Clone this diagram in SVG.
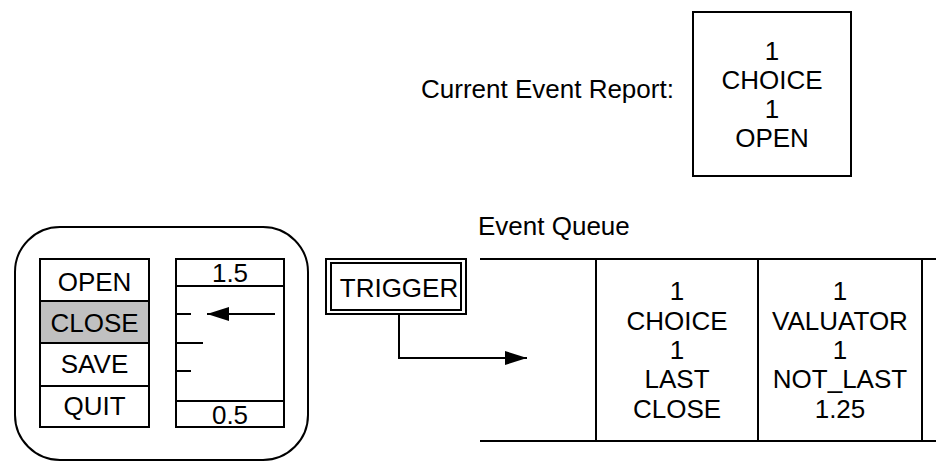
<svg xmlns="http://www.w3.org/2000/svg" width="936" height="462" viewBox="0 0 936 462">
  <style>
    text { font-family: "Liberation Sans", Arial, sans-serif; font-size: 26px; fill: #000; }
    .c { text-anchor: middle; }
    .box { fill: none; stroke: #000; stroke-width: 2; }
    .ln { fill: none; stroke: #000; stroke-width: 2; }
  </style>
  <defs>
    <marker id="arrow" viewBox="0 0 22 14" refX="22" refY="7" markerWidth="22" markerHeight="14" markerUnits="userSpaceOnUse" orient="auto">
      <path d="M0,0 L22,7 L0,14 Z" fill="#000"/>
    </marker>
  </defs>
  <rect width="936" height="462" fill="#fff"/>

  <!-- report of the current event -->
  <g id="report">
    <text x="421" y="98">Current Event Report:</text>
    <rect class="box" x="693" y="12" width="158" height="164"/>
    <text class="c" x="772" y="60">1</text>
    <text class="c" x="772" y="89">CHOICE</text>
    <text class="c" x="772" y="118">1</text>
    <text class="c" x="772" y="147">OPEN</text>
  </g>

  <!-- workstation with choice menu and valuator -->
  <g id="workstation">
    <rect class="box" x="15" y="227" width="293" height="233" rx="45" ry="45"/>
  </g>

  <g id="choice-menu">
    <rect x="40" y="301" width="109" height="42" fill="#c0c0c0"/>
    <rect class="box" x="40" y="259" width="109" height="168"/>
    <line class="ln" x1="40" y1="301" x2="149" y2="301"/>
    <line class="ln" x1="40" y1="343" x2="149" y2="343"/>
    <line class="ln" x1="40" y1="386" x2="149" y2="386"/>
    <text class="c" x="94.5" y="291">OPEN</text>
    <text class="c" x="94.5" y="332">CLOSE</text>
    <text class="c" x="94.5" y="373">SAVE</text>
    <text class="c" x="94.5" y="415">QUIT</text>
  </g>

  <g id="valuator">
    <rect class="box" x="176" y="259" width="108" height="168"/>
    <line class="ln" x1="176" y1="286" x2="284" y2="286"/>
    <line class="ln" x1="176" y1="401" x2="284" y2="401"/>
    <text class="c" x="230" y="282">1.5</text>
    <text class="c" x="230" y="424">0.5</text>
    <line class="ln" x1="176" y1="314" x2="191" y2="314"/>
    <line class="ln" x1="176" y1="343" x2="203" y2="343"/>
    <line class="ln" x1="176" y1="371" x2="191" y2="371"/>
    <line class="ln" x1="275" y1="314" x2="207" y2="314" marker-end="url(#arrow)"/>
  </g>

  <g id="trigger">
    <rect class="box" x="326" y="259" width="140" height="55"/>
    <rect class="box" x="331" y="263" width="130" height="47"/>
    <text class="c" x="399" y="297">TRIGGER</text>
  </g>

  <!-- event queue -->
  <g id="event-queue">
    <text x="478" y="235">Event Queue</text>
    <line class="ln" x1="480" y1="259" x2="936" y2="259"/>
    <line class="ln" x1="480" y1="441" x2="936" y2="441"/>
    <line class="ln" x1="596" y1="259" x2="596" y2="441"/>
    <line class="ln" x1="758" y1="259" x2="758" y2="441"/>
    <line class="ln" x1="922" y1="259" x2="922" y2="441"/>
  </g>

  <g id="queue-entry-1">
    <text class="c" x="677" y="300">1</text>
    <text class="c" x="677" y="330">CHOICE</text>
    <text class="c" x="677" y="359">1</text>
    <text class="c" x="677" y="388">LAST</text>
    <text class="c" x="677" y="418">CLOSE</text>
  </g>

  <g id="queue-entry-2">
    <text class="c" x="840" y="300">1</text>
    <text class="c" x="840" y="330">VALUATOR</text>
    <text class="c" x="840" y="359">1</text>
    <text class="c" x="840" y="388">NOT_LAST</text>
    <text class="c" x="840" y="418">1.25</text>
  </g>

  <!-- connectors -->
  <g id="connectors">
    <path class="ln" d="M399,314 V358 H527" marker-end="url(#arrow)"/>
  </g>
</svg>
